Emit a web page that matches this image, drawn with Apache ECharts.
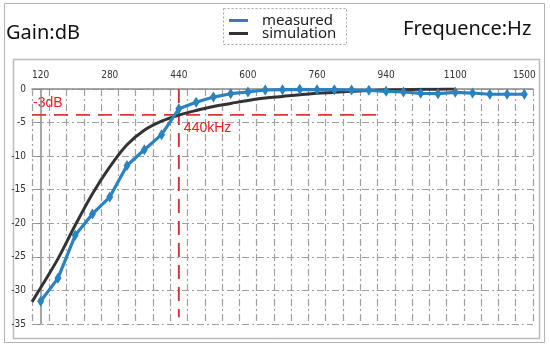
<!DOCTYPE html>
<html>
<head>
<meta charset="utf-8">
<script src="https://cdn.jsdelivr.net/npm/echarts@6/dist/echarts.min.js"></script>
<style>html,body{margin:0;padding:0;background:#fff}#c{width:550px;height:347px}</style>
</head>
<body>
<div id="c"></div>
<script>
// Frequency categories (Hz); labels shown every 4th
const categories = [120,160,200,240,280,320,360,400,440,480,520,560,600,640,680,720,760,805,850,895,940,980,1020,1060,1100,1200,1300,1400,1500];
// Measured gain (dB), one per category
const measured = [-31.6,-28.2,-21.8,-18.6,-16.1,-11.4,-9.05,-6.8,-2.95,-1.96,-1.2,-0.7,-0.45,-0.15,-0.1,-0.05,-0.1,-0.1,-0.15,-0.2,-0.35,-0.45,-0.65,-0.7,-0.5,-0.6,-0.78,-0.78,-0.78];
// Simulation curve: position in category index units, gain (dB)
const simPos = [-0.5,0,1,2,3,4,5,6,7,8,9,10,11,12,13,14,15,16,17,18,19,20,21,22,23,24];
const simGain = [-31.7,-29.6,-25.3,-20.3,-15.6,-11.6,-8.3,-6.15,-4.8,-3.9,-3.2,-2.6,-2.15,-1.7,-1.35,-1.1,-0.85,-0.65,-0.5,-0.35,-0.22,-0.15,-0.1,-0.05,-0.02,0];
// -3dB guide lines
const guideDb = -3.85;
const guideK = 8;          // 440 Hz category index
const guideHEnd = 19.5;
const guideVEnd = -34;

const narrow = "'Liberation Sans Narrow','DejaVu Sans Condensed','Liberation Sans',sans-serif";
const gridDash = { color: '#a0a0a0', width: 1.2, type: [7, 3, 2, 3] };

const chart = echarts.init(document.getElementById('c'), null, { renderer: 'canvas' });

const option = {
  animation: false,
  backgroundColor: '#fff',
  grid: { left: 32, right: 17, top: 89, height: 235, containLabel: false },
  legend: {
    orient: 'vertical',
    left: 229, top: 13,
    padding: 0,
    itemGap: -2,
    itemWidth: 19, itemHeight: 3,
    icon: 'rect',
    textStyle: { fontFamily: 'Noto Sans', fontSize: 15, color: '#222', padding: [0, 0, 0, 9] },
    data: [
      { name: 'measured', itemStyle: { color: '#4a72b8' } },
      { name: 'simulation', itemStyle: { color: '#333' } }
    ]
  },
  xAxis: [
    {
      type: 'category',
      position: 'top',
      data: categories,
      boundaryGap: true,
      axisLine: { show: true, lineStyle: { color: '#8a8a8a', width: 1.5 } },
      axisTick: { show: false },
      axisLabel: { interval: 3, margin: 9, fontFamily: narrow, fontSize: 10, color: '#333' },
      splitLine: { show: true, interval: 0, lineStyle: gridDash }
    },
    { type: 'value', min: -0.5, max: 28.5, show: false }
  ],
  yAxis: {
    type: 'value',
    min: -35, max: 0, interval: 5,
    axisLine: { show: true, lineStyle: { color: '#8a8a8a', width: 1.5 } },
    axisTick: { show: true, length: 3, lineStyle: { color: '#8a8a8a' } },
    axisLabel: { margin: 6, fontFamily: narrow, fontSize: 10, color: '#333' },
    splitLine: { show: true, lineStyle: gridDash }
  },
  series: [
    {
      name: 'guideH', type: 'line', xAxisIndex: 1, silent: true, symbol: 'none', z: 1,
      data: [[-0.5, guideDb], [guideHEnd, guideDb]],
      lineStyle: { color: '#e03434', width: 1.8, type: [14, 8] }
    },
    {
      name: 'guideV', type: 'line', xAxisIndex: 1, silent: true, symbol: 'none', z: 1,
      data: [[guideK, 0], [guideK, guideVEnd]],
      lineStyle: { color: '#d42c2c', width: 1.8, type: [14, 8] }
    },
    {
      name: 'simulation', type: 'line', xAxisIndex: 1, smooth: 0.35, symbol: 'none', z: 2,
      data: simPos.map((p, i) => [p, simGain[i]]),
      lineStyle: { color: '#333', width: 3 },
      itemStyle: { color: '#333' }
    },
    {
      name: 'measured', type: 'line', xAxisIndex: 0, z: 3,
      data: measured,
      symbol: 'diamond', symbolSize: [7, 11],
      lineStyle: { color: '#2b82c0', width: 3.2 },
      itemStyle: { color: '#2b82c0' }
    }
  ]
};
chart.setOption(option);

const pH = chart.convertToPixel({ xAxisIndex: 1, yAxisIndex: 0 }, [-0.5, guideDb]);
const pV = chart.convertToPixel({ xAxisIndex: 1, yAxisIndex: 0 }, [guideK, guideDb]);

chart.setOption({
  graphic: [
    { type: 'rect', id: 'outer', silent: true, shape: { x: 4.5, y: 3.5, width: 540, height: 339 }, style: { fill: 'none', stroke: '#b4b4b4', lineWidth: 1 } },
    { type: 'rect', id: 'panel', silent: true, shape: { x: 13.5, y: 59.5, width: 526, height: 279 }, style: { fill: 'none', stroke: '#bcbcbc', lineWidth: 1.5 } },
    { type: 'rect', id: 'legbox', silent: true, shape: { x: 223.5, y: 8.5, width: 123, height: 36 }, style: { fill: 'none', stroke: '#a8a8a8', lineWidth: 1, lineDash: [2, 2] } },
    { type: 'text', id: 'gain', silent: true, left: 6, top: 23, style: { text: 'Gain:dB', fontFamily: 'Noto Sans', fontSize: 20, fill: '#111' } },
    { type: 'text', id: 'freq', silent: true, left: 403, top: 19, style: { text: 'Frequence:Hz', fontFamily: 'Noto Sans', fontSize: 20, fill: '#111' } },
    { type: 'text', id: 'db3', silent: true, x: pH[0] + 1, y: pH[1] - 11.5, style: { text: '-3dB', fontFamily: 'Liberation Sans', fontSize: 14, fill: '#e02424', verticalAlign: 'middle' } },
    { type: 'text', id: 'khz', silent: true, x: pV[0] + 5, y: pV[1] + 13.5, style: { text: '440kHz', fontFamily: 'Liberation Sans', fontSize: 14, fill: '#e02424', verticalAlign: 'middle' } }
  ]
});
</script>
</body>
</html>
